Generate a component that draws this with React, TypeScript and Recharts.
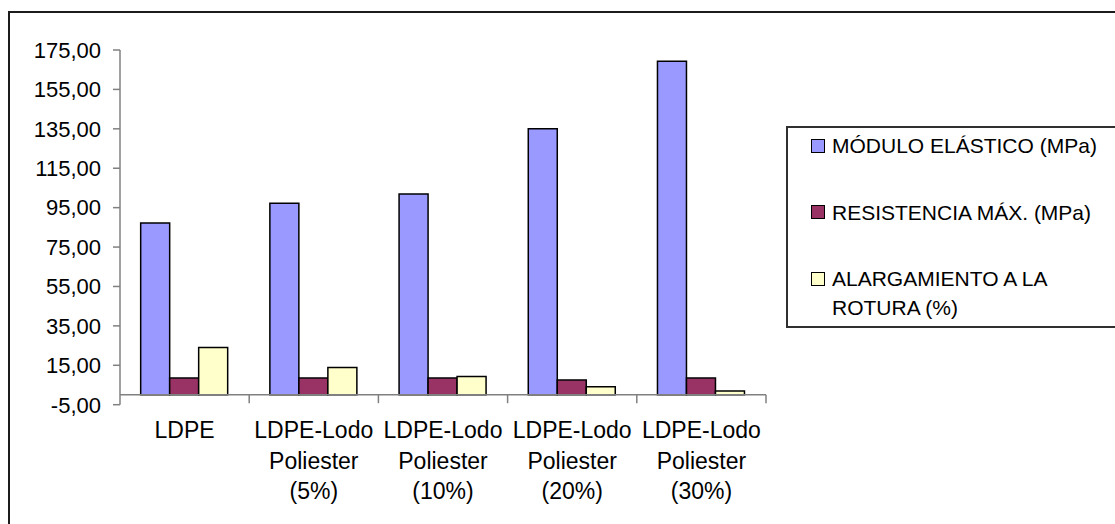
import React from 'react';
import { BarChart, Bar, XAxis, YAxis, ReferenceLine, Legend } from 'recharts';

const categories = [
  'LDPE',
  'LDPE-Lodo Poliester (5%)',
  'LDPE-Lodo Poliester (10%)',
  'LDPE-Lodo Poliester (20%)',
  'LDPE-Lodo Poliester (30%)',
];
const moduloElastico = [87.2, 97.2, 101.9, 135.0, 169.3];
const resistenciaMax = [8.5, 8.5, 8.5, 7.5, 8.5];
const alargamientoRotura = [24.0, 13.9, 9.3, 4.1, 1.9];

const seriesKeys = ['modulo', 'resistencia', 'alargamiento'];
const seriesNames = ['MÓDULO ELÁSTICO (MPa)', 'RESISTENCIA MÁX. (MPa)', 'ALARGAMIENTO A LA ROTURA (%)'];
const seriesColors = ['#9999FF', '#993366', '#FFFFCC'];

const yTicks = [-5, 15, 35, 55, 75, 95, 115, 135, 155, 175];
const yDomain: [number, number] = [-5, 175];

const data = categories.map((c, i) => ({
  category: c,
  modulo: moduloElastico[i],
  resistencia: resistenciaMax[i],
  alargamiento: alargamientoRotura[i],
}));

const FONT = '"Liberation Sans", Arial, sans-serif';
const AXIS_COLOR = '#808080';

const fmt = (v: number) => v.toFixed(2).replace('.', ',');

const CategoryTick = (props: any) => {
  const { x, y, payload, width, visibleTicksCount } = props;
  const n = visibleTicksCount || categories.length;
  const bw = (width || 646) / n;
  const words = String(payload.value).split(' ');
  return (
    <g>
      <line x1={x + bw / 2} x2={x + bw / 2} y1={y - 10} y2={y - 1.5} stroke={AXIS_COLOR} strokeWidth={1.5} />
      <text x={x} textAnchor="middle" fontSize={23} fill="#000" fontFamily={FONT}>
        {words.map((w, i) => (
          <tspan key={i} x={x} y={y + 33.6 + i * 30.5}>
            {w}
          </tspan>
        ))}
      </text>
    </g>
  );
};

const LegendBox = () => (
  <div
    style={{
      boxSizing: 'border-box',
      width: 340,
      height: 202,
      border: '2px solid #303030',
      background: '#fff',
      paddingTop: 3,
      paddingLeft: 23,
      display: 'flex',
      flexDirection: 'column',
      gap: 37.5,
      fontFamily: FONT,
      fontSize: 21,
      lineHeight: '29px',
      color: '#000',
    }}
  >
    {seriesNames.map((name, i) => (
      <div key={name} style={{ display: 'flex', alignItems: 'flex-start' }}>
        <div
          style={{
            boxSizing: 'border-box',
            width: 14,
            height: 14,
            marginTop: 7.5,
            border: '1.5px solid #000',
            background: seriesColors[i],
            flex: 'none',
          }}
        />
        <div style={{ marginLeft: 7, width: 290 }}>{name}</div>
      </div>
    ))}
  </div>
);

export default function App() {
  return (
    <div
      style={{
        position: 'fixed',
        left: 0,
        top: 0,
        width: 1115,
        height: 524,
        overflow: 'hidden',
        background: '#fff',
        fontFamily: FONT,
      }}
    >
      <div
        style={{
          position: 'absolute',
          left: 8,
          top: 11,
          width: 1200,
          height: 600,
          border: '2px solid #1c1c1c',
        }}
      />
      <div style={{ position: 'absolute', left: 8, top: 8 }}>
        <BarChart
          width={1107}
          height={516}
          data={data}
          margin={{ top: 42, right: 349, bottom: 0, left: 0 }}
          barCategoryGap="16%"
          barGap={0}
        >
          <YAxis
            type="number"
            domain={yDomain}
            ticks={yTicks}
            interval={0}
            width={112}
            tickFormatter={fmt}
            axisLine={{ stroke: AXIS_COLOR, strokeWidth: 1.5 }}
            tickLine={{ stroke: AXIS_COLOR, strokeWidth: 1.5 }}
            tickSize={7}
            tickMargin={12}
            tick={{ fontSize: 22, fill: '#000', fontFamily: FONT }}
          />
          <XAxis
            dataKey="category"
            height={119.3}
            axisLine={false}
            tickLine={false}
            tickSize={0}
            tickMargin={0}
            interval={0}
            tick={<CategoryTick />}
          />
          {seriesKeys.map((k, i) => (
            <Bar
              key={k}
              dataKey={k}
              name={seriesNames[i]}
              fill={seriesColors[i]}
              stroke="#000"
              strokeWidth={1.5}
              isAnimationActive={false}
            />
          ))}
          <ReferenceLine y={0} stroke={AXIS_COLOR} strokeWidth={1.5} />
          <Legend
            layout="horizontal"
            align="center"
            verticalAlign="middle"
            wrapperStyle={{ left: 778, top: 118, width: 340, height: 202 }}
            content={() => <LegendBox />}
          />
        </BarChart>
      </div>
    </div>
  );
}
